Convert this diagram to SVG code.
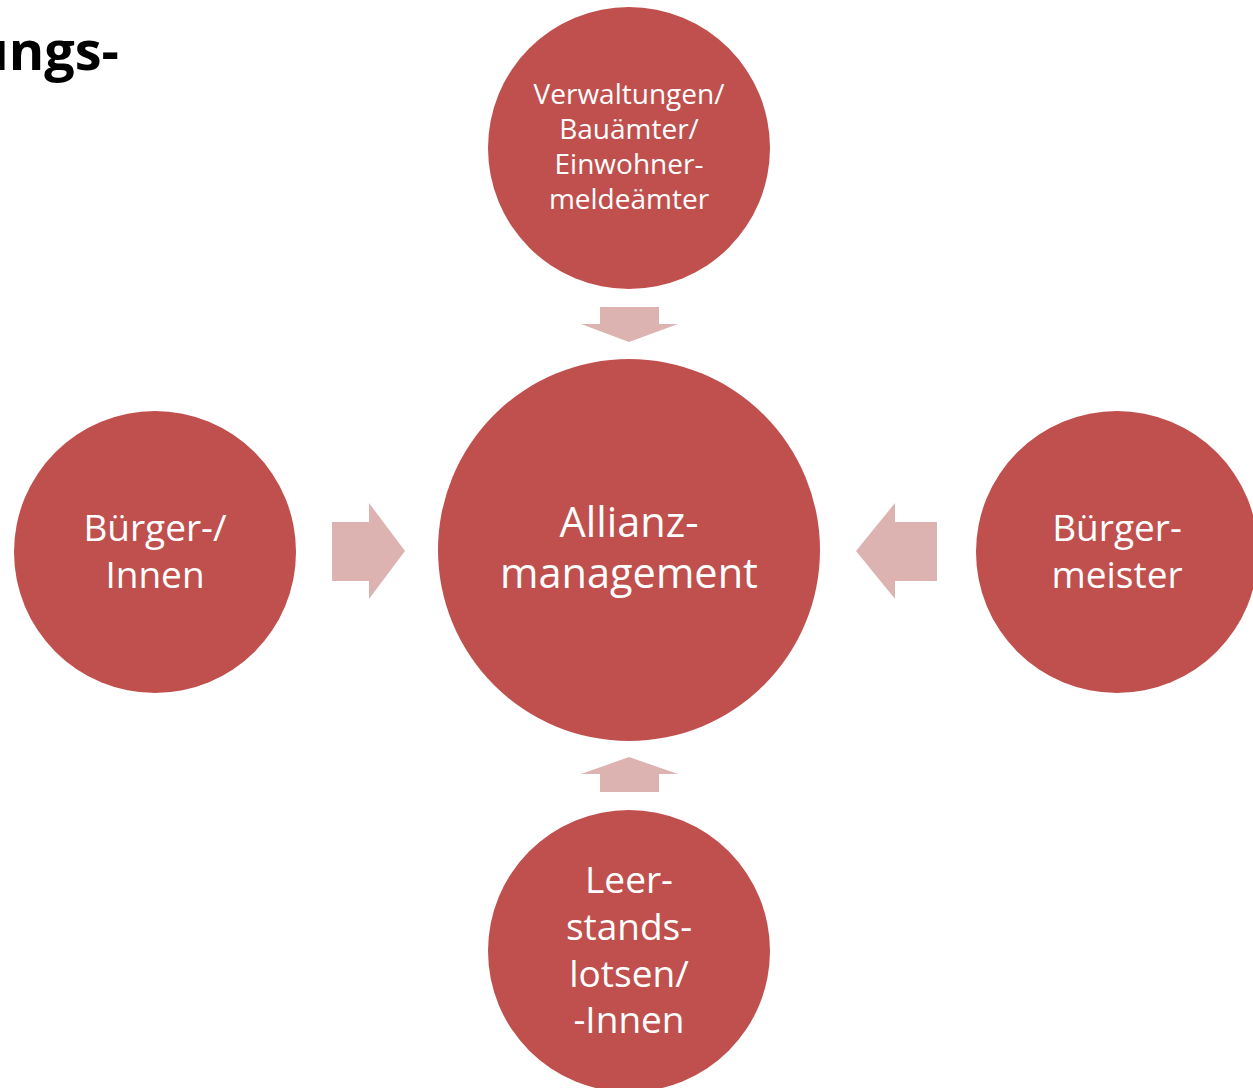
<svg xmlns="http://www.w3.org/2000/svg" width="1253" height="1088" viewBox="0 0 1253 1088">
<style>
.c{fill:#C0504D}
.a{fill:#DDB3B2}
.t{font-family:"Open Sans","Noto Sans","Liberation Sans",sans-serif;fill:#FFFFFF;text-anchor:middle}
.h{font-family:"Open Sans","Noto Sans","Liberation Sans",sans-serif;font-weight:bold;fill:#000000;font-size:54px;text-anchor:end}
</style>
<rect width="1253" height="1088" fill="#FFFFFF"/>
<text class="h" x="119" y="70">ungs-</text>
<g id="connectors">
<polygon class="a" points="600,307 659,307 659,324 678,324 629,342 581,324 600,324"/>
<polygon class="a" points="600,792 659,792 659,774 678,774 629,757 581,774 600,774"/>
<polygon class="a" points="332,522 369,522 369,503 405,551 369,599 369,581 332,581"/>
<polygon class="a" points="937,522 895,522 895,503 856,551 895,599 895,581 937,581"/>
</g>
<g id="node-top">
<circle class="c" cx="629" cy="148" r="141"/>
<text class="t" font-size="28"><tspan x="629" y="104">Verwaltungen/</tspan><tspan x="629" y="139">Bauämter/</tspan><tspan x="629" y="174">Einwohner-</tspan><tspan x="629" y="209">meldeämter</tspan></text>
</g>
<g id="node-center">
<circle class="c" cx="629" cy="550" r="191"/>
<text class="t" font-size="41.5"><tspan x="629" y="537">Allianz-</tspan><tspan x="629" y="588">management</tspan></text>
</g>
<g id="node-left">
<circle class="c" cx="155" cy="552" r="141"/>
<text class="t" font-size="37"><tspan x="155" y="541">Bürger-/</tspan><tspan x="155" y="588">Innen</tspan></text>
</g>
<g id="node-right">
<circle class="c" cx="1117" cy="552" r="141"/>
<text class="t" font-size="37"><tspan x="1117" y="541">Bürger-</tspan><tspan x="1117" y="588">meister</tspan></text>
</g>
<g id="node-bottom">
<circle class="c" cx="629" cy="951" r="141"/>
<text class="t" font-size="37"><tspan x="629" y="893">Leer-</tspan><tspan x="629" y="940">stands-</tspan><tspan x="629" y="987">lotsen/</tspan><tspan x="629" y="1033">-Innen</tspan></text>
</g>
</svg>
